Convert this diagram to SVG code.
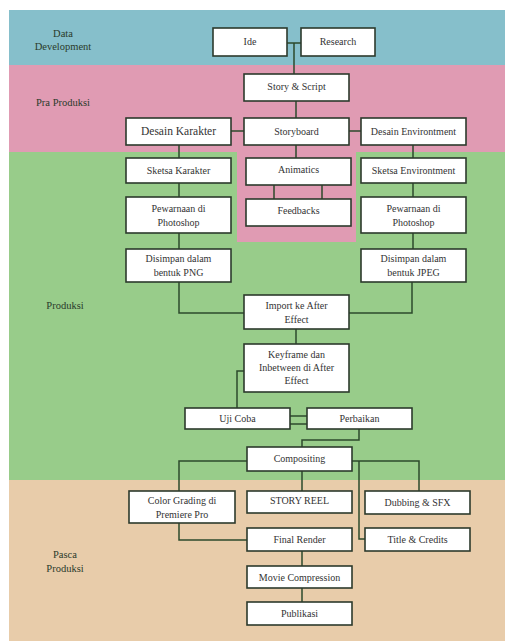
<svg xmlns="http://www.w3.org/2000/svg" width="505" height="641" viewBox="0 0 505 641">
<style>
.n rect{fill:#fff;stroke:#2c3a2c;stroke-width:1.6}
.n text,.lbl{font-family:"Liberation Serif",serif;font-size:10px;fill:#333;text-anchor:middle}
.lbl{fill:#2a3a2a;font-size:10.5px}
#connectors path{fill:none;stroke:#2c4a2c;stroke-width:1.5}
</style>
<rect x="0" y="0" width="505" height="641" fill="#fff"/>
<g id="bands">
<rect x="9" y="10" width="496" height="55" fill="#86bfcb"/>
<rect x="9" y="65" width="496" height="87" fill="#e09bb3"/>
<rect x="9" y="152" width="496" height="328" fill="#98cc8a"/>
<rect x="237" y="150" width="119" height="92" fill="#e09bb3"/>
<rect x="9" y="480" width="496" height="161" fill="#e8ccaa"/>
</g>
<g id="labels">
<text class="lbl" x="63" y="37">Data</text>
<text class="lbl" x="63" y="50">Development</text>
<text class="lbl" x="63" y="106">Pra Produksi</text>
<text class="lbl" x="65" y="309">Produksi</text>
<text class="lbl" x="65" y="558">Pasca</text>
<text class="lbl" x="65" y="572">Produksi</text>
</g>
<g id="connectors">
<path d="M287 43H301M294 43V74"/>
<path d="M296 101V118"/>
<path d="M231 131H244M349 131H361"/>
<path d="M179 145V158M179 183V197M179 233V249"/>
<path d="M413 145V158M413 183V197M413 233V249"/>
<path d="M296 145V158M274 185V199M322 185V199"/>
<path d="M179 282V313H244M412 282V313H349"/>
<path d="M296 329V344"/>
<path d="M244 371H237V408"/>
<path d="M290 416H307M290 424H307"/>
<path d="M359 429V440H302V447"/>
<path d="M247 461H179V491M302 471V491M352 461H419V491M359 461V539H365"/>
<path d="M179 523V540H247"/>
<path d="M302 551V566M302 588V602"/>
</g>
<g id="ide" class="n"><rect x="213" y="28" width="74" height="28"/><text x="250" y="45">Ide</text></g>
<g id="research" class="n"><rect x="301" y="28" width="74" height="28"/><text x="338" y="45">Research</text></g>
<g id="story-script" class="n"><rect x="244" y="74" width="105" height="27"/><text x="296.5" y="90">Story &amp; Script</text></g>
<g id="desain-karakter" class="n"><rect x="126" y="118" width="105" height="27"/><text x="178.5" y="135" style="font-size:11.5px">Desain Karakter</text></g>
<g id="storyboard" class="n"><rect x="244" y="118" width="105" height="27"/><text x="296.5" y="134.5">Storyboard</text></g>
<g id="desain-env" class="n"><rect x="361" y="118" width="105" height="27"/><text x="413.5" y="134.5">Desain Environtment</text></g>
<g id="sketsa-karakter" class="n"><rect x="126" y="158" width="105" height="25"/><text x="178.5" y="173.5">Sketsa Karakter</text></g>
<g id="animatics" class="n"><rect x="246" y="158" width="105" height="27"/><text x="298.5" y="172.5">Animatics</text></g>
<g id="sketsa-env" class="n"><rect x="361" y="158" width="105" height="25"/><text x="413.5" y="173.5">Sketsa Environtment</text></g>
<g id="feedbacks" class="n"><rect x="246" y="199" width="105" height="27"/><text x="298.5" y="213.5">Feedbacks</text></g>
<g id="pewarnaan-l" class="n"><rect x="126" y="197" width="105" height="36"/><text x="178.5" y="212">Pewarnaan di</text><text x="178.5" y="225.5">Photoshop</text></g>
<g id="pewarnaan-r" class="n"><rect x="361" y="197" width="105" height="36"/><text x="413.5" y="212">Pewarnaan di</text><text x="413.5" y="225.5">Photoshop</text></g>
<g id="png" class="n"><rect x="126" y="249" width="105" height="33"/><text x="178.5" y="262">Disimpan dalam</text><text x="178.5" y="275.5">bentuk PNG</text></g>
<g id="jpeg" class="n"><rect x="361" y="249" width="105" height="33"/><text x="413.5" y="262">Disimpan dalam</text><text x="413.5" y="275.5">bentuk JPEG</text></g>
<g id="import" class="n"><rect x="244" y="295" width="105" height="34"/><text x="296.5" y="309">Import ke After</text><text x="296.5" y="322.5">Effect</text></g>
<g id="keyframe" class="n"><rect x="244" y="344" width="105" height="48"/><text x="296.5" y="358">Keyframe dan</text><text x="296.5" y="371">Inbetween di After</text><text x="296.5" y="384">Effect</text></g>
<g id="uji-coba" class="n"><rect x="185" y="408" width="105" height="21"/><text x="237.5" y="421.5">Uji Coba</text></g>
<g id="perbaikan" class="n"><rect x="307" y="408" width="105" height="21"/><text x="359.5" y="421.5">Perbaikan</text></g>
<g id="compositing" class="n"><rect x="247" y="447" width="105" height="24"/><text x="299.5" y="461.5">Compositing</text></g>
<g id="color-grading" class="n"><rect x="129" y="491" width="106" height="32"/><text x="182" y="504">Color Grading di</text><text x="182" y="517.5">Premiere Pro</text></g>
<g id="story-reel" class="n"><rect x="247" y="491" width="105" height="22"/><text x="299.5" y="503.5">STORY REEL</text></g>
<g id="dubbing" class="n"><rect x="365" y="491" width="105" height="23"/><text x="417.5" y="505.5">Dubbing &amp; SFX</text></g>
<g id="final-render" class="n"><rect x="247" y="528" width="105" height="23"/><text x="299.5" y="542.5">Final Render</text></g>
<g id="title-credits" class="n"><rect x="365" y="528" width="105" height="23"/><text x="417.5" y="542.5">Title &amp; Credits</text></g>
<g id="movie-compression" class="n"><rect x="247" y="566" width="105" height="22"/><text x="299.5" y="580.5">Movie Compression</text></g>
<g id="publikasi" class="n"><rect x="247" y="602" width="105" height="23"/><text x="299.5" y="616.5">Publikasi</text></g>
</svg>
